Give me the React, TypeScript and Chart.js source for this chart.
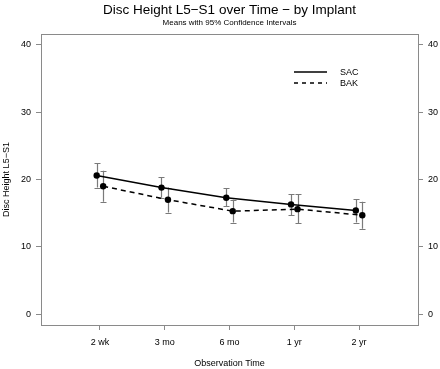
import React, { useEffect, useRef } from "react";
import { Chart, registerables } from "chart.js";

Chart.register(...registerables);

const categories = ["2 wk", "3 mo", "6 mo", "1 yr", "2 yr"];
const sacMean = [20.6, 18.8, 17.3, 16.3, 15.4];
const sacLow = [18.8, 17.3, 16.0, 14.7, 13.6];
const sacHigh = [22.4, 20.3, 18.7, 17.8, 17.1];
const bakMean = [19.0, 17.0, 15.3, 15.6, 14.7];
const bakLow = [16.7, 15.1, 13.6, 13.5, 12.7];
const bakHigh = [21.3, 18.8, 17.0, 17.8, 16.7];
const yTicks = [0, 10, 20, 30, 40];
const seriesNames = ["SAC", "BAK"];
const titleText = "Disc Height L5\u2212S1 over Time \u2212 by Implant";
const subtitleText = "Means with 95% Confidence Intervals";
const yTitle = "Disc Height L5\u2212S1";
const xTitle = "Observation Time";

const FONT = "'Liberation Sans', Arial, Helvetica, sans-serif";
const AXIS_GRAY = "#8a8a8a";
const ERR_GRAY = "#7a7a7a";
const OFFSET = 0.05;

export default function App() {
  const ref = useRef<HTMLCanvasElement | null>(null);

  useEffect(() => {
    if (!ref.current) return;
    const lows = [sacLow, bakLow];
    const highs = [sacHigh, bakHigh];

    const plugin = {
      id: "custom",
      beforeDatasetsDraw(chart: any) {
        const ctx = chart.ctx;
        const xs = chart.scales.x;
        const ys = chart.scales.y;
        ctx.save();
        ctx.strokeStyle = ERR_GRAY;
        ctx.lineWidth = 1.2;
        [0, 1].forEach((s) => {
          const off = s === 0 ? -OFFSET : OFFSET;
          categories.forEach((_, i) => {
            const x = Math.round(xs.getPixelForValue(i + 1 + off)) + 0.5;
            const y1 = ys.getPixelForValue(lows[s][i]);
            const y2 = ys.getPixelForValue(highs[s][i]);
            ctx.beginPath();
            ctx.moveTo(x, y1);
            ctx.lineTo(x, y2);
            ctx.moveTo(x - 3, Math.round(y1) + 0.5);
            ctx.lineTo(x + 3, Math.round(y1) + 0.5);
            ctx.moveTo(x - 3, Math.round(y2) + 0.5);
            ctx.lineTo(x + 3, Math.round(y2) + 0.5);
            ctx.stroke();
          });
        });
        ctx.restore();
      },
      afterDraw(chart: any) {
        const ctx = chart.ctx;
        const a = chart.chartArea;
        ctx.save();
        // frame
        ctx.strokeStyle = AXIS_GRAY;
        ctx.lineWidth = 1;
        ctx.strokeRect(a.left + 0.5, a.top + 0.5, a.right - a.left, a.bottom - a.top);
        const cx = (a.left + a.right) / 2;
        ctx.fillStyle = "#000";
        ctx.textAlign = "center";
        ctx.textBaseline = "alphabetic";
        ctx.font = `13.5px ${FONT}`;
        ctx.fillText(titleText, cx, 13.5);
        ctx.font = `8px ${FONT}`;
        ctx.fillText(subtitleText, cx, 24.5);
        ctx.font = `9px ${FONT}`;
        ctx.textBaseline = "middle";
        ctx.fillText(xTitle, cx, 363.5);
        ctx.save();
        ctx.translate(7, (a.top + a.bottom) / 2);
        ctx.rotate(-Math.PI / 2);
        ctx.fillText(yTitle, 0, 0);
        ctx.restore();
        // legend
        ctx.strokeStyle = "#000";
        ctx.lineWidth = 1.5;
        const lx1 = 294, lx2 = 327, tx = 340;
        const ly = [72, 83];
        ly.forEach((y, i) => {
          ctx.setLineDash(i === 0 ? [] : [4, 4]);
          ctx.beginPath();
          ctx.moveTo(lx1, y);
          ctx.lineTo(lx2, y);
          ctx.stroke();
          ctx.textAlign = "left";
          ctx.fillText(seriesNames[i], tx, y + 0.5);
        });
        ctx.restore();
      },
    };

    const tickFont = { family: FONT, size: 9 };
    const yScale = (pos: string, width: number) => ({
      type: "linear",
      position: pos,
      min: -1.6,
      max: 41.6,
      afterBuildTicks: (s: any) => {
        s.ticks = yTicks.map((v) => ({ value: v }));
      },
      afterFit: (s: any) => {
        s.width = width;
      },
      border: { display: false },
      grid: {
        display: true,
        drawOnChartArea: false,
        drawTicks: true,
        tickLength: 5,
        color: AXIS_GRAY,
      },
      ticks: { font: tickFont, color: "#000", padding: 5 },
    });

    const chart = new Chart(ref.current, {
      type: "line",
      data: {
        datasets: [
          {
            label: seriesNames[0],
            data: sacMean.map((v, i) => ({ x: i + 1 - OFFSET, y: v })),
            borderColor: "#000",
            backgroundColor: "#000",
            borderWidth: 1.5,
            pointRadius: 3.2,
            pointBackgroundColor: "#000",
            pointBorderWidth: 0,
            yAxisID: "y",
          },
          {
            label: seriesNames[1],
            data: bakMean.map((v, i) => ({ x: i + 1 + OFFSET, y: v })),
            borderColor: "#000",
            backgroundColor: "#000",
            borderWidth: 1.5,
            borderDash: [5, 4],
            pointRadius: 3.2,
            pointBackgroundColor: "#000",
            pointBorderWidth: 0,
            yAxisID: "y",
          },
        ],
      },
      options: {
        animation: false,
        responsive: false,
        layout: { padding: { top: 34, left: 0, right: 0, bottom: 0 } },
        plugins: { legend: { display: false }, tooltip: { enabled: false }, title: { display: false } },
        scales: {
          x: {
            type: "linear",
            min: 0.09,
            max: 5.91,
            afterBuildTicks: (s: any) => {
              s.ticks = categories.map((_, i) => ({ value: i + 1 }));
            },
            afterFit: (s: any) => {
              s.height = 44;
            },
            border: { display: false },
            grid: {
              display: true,
              drawOnChartArea: false,
              drawTicks: true,
              tickLength: 5,
              color: AXIS_GRAY,
            },
            ticks: {
              font: tickFont,
              color: "#000",
              padding: 7,
              maxRotation: 0,
              callback: (v: any) => categories[Math.round(Number(v)) - 1] ?? "",
            },
          },
          y: yScale("left", 41) as any,
          y2: yScale("right", 22) as any,
        },
      } as any,
      plugins: [plugin],
    });
    return () => chart.destroy();
  }, []);

  return (
    <div style={{ position: "fixed", left: 0, top: 0, width: 440, height: 369, background: "#fff" }}>
      <canvas ref={ref} width={440} height={369} style={{ width: 440, height: 369, display: "block" }} />
    </div>
  );
}
